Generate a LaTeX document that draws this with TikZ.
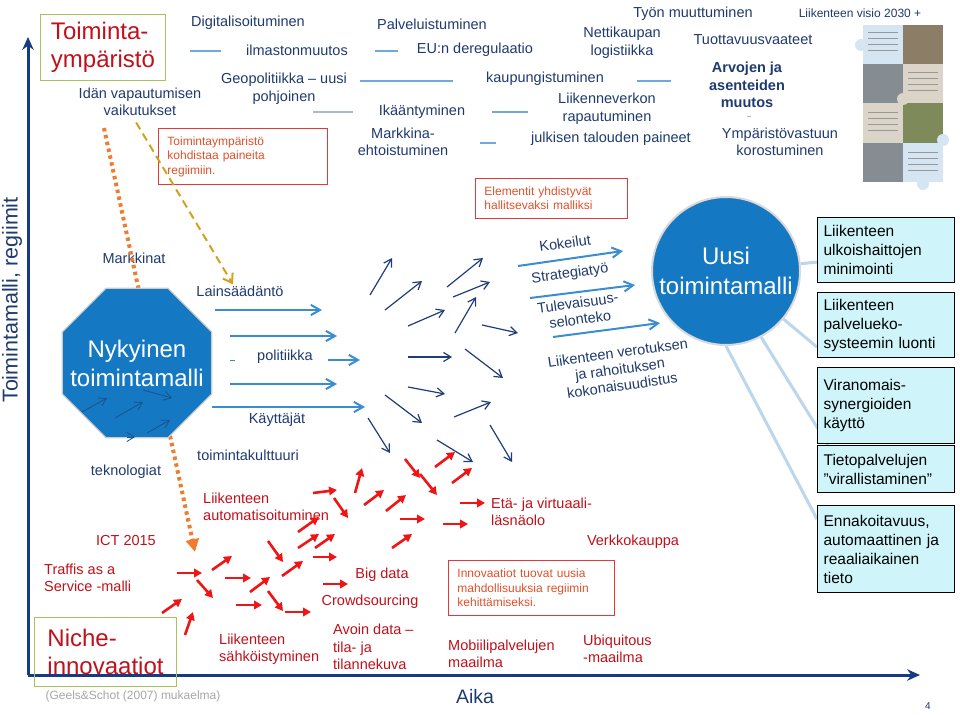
\documentclass[tikz,border=0pt]{standalone}
\usepackage{fontspec}
\setmainfont{Liberation Sans}
\usetikzlibrary{arrows.meta,shapes.geometric,backgrounds}
\definecolor{navytxt}{HTML}{1F3A6E}
\definecolor{darkred}{HTML}{C0101A}
\definecolor{notered}{HTML}{E0502A}
\definecolor{boxred}{HTML}{E03A3A}
\definecolor{nicheolive}{HTML}{A9C25D}
\definecolor{modelblue}{HTML}{1479C2}
\definecolor{flowblue}{HTML}{3A8ED0}
\definecolor{pushnavy}{HTML}{1F3D7A}
\definecolor{sparkred}{HTML}{F01414}
\definecolor{axisnavy}{HTML}{173A84}
\definecolor{goalfill}{HTML}{CFF5FB}
\definecolor{linkblue}{HTML}{BCD6EC}
\definecolor{sepblue}{HTML}{6FA8DC}
\definecolor{sepgray}{HTML}{A9BCC8}
\definecolor{dotorange}{HTML}{ED7D31}
\definecolor{dashgold}{HTML}{D2A21E}
\definecolor{pzpale}{HTML}{D5E5F2}
\definecolor{pzbeige}{HTML}{DAD4C9}
\definecolor{pzbrown}{HTML}{8C7E66}
\definecolor{pzgray}{HTML}{858C92}
\definecolor{pzgreen}{HTML}{7E8A5A}
\tikzset{
  trend/.style={
    text=navytxt,
    font=\fontsize{14.5}{17.5}\selectfont,
    align=center,
    inner sep=1pt
  },
  niche/.style={
    text=darkred,
    font=\fontsize{14.5}{17.5}\selectfont,
    align=left,
    inner sep=1pt
  },
  heading/.style={
    draw=nicheolive,
    line width=1pt,
    text=darkred,
    font=\fontsize{24}{28}\selectfont,
    align=left,
    anchor=north west
  },
  remark/.style={
    draw=boxred,
    line width=0.9pt,
    text=notered,
    font=\fontsize{12}{14.5}\selectfont,
    align=left,
    inner xsep=9pt,
    anchor=north west
  },
  goal/.style={
    draw=black,
    line width=1.2pt,
    fill=goalfill,
    text=black,
    font=\fontsize{15.5}{19}\selectfont,
    align=left,
    text width=125pt,
    inner xsep=6pt,
    anchor=north west
  },
  modeltext/.style={
    text=white,
    font=\fontsize{24}{29}\selectfont,
    align=center,
    inner sep=0pt
  },
  flow/.style={
    -{Straight Barb[length=3.2mm,width=3.6mm]},
    draw=flowblue,
    line width=2pt
  },
  push/.style={
    -{Straight Barb[length=2.6mm,width=3.2mm]},
    draw=pushnavy,
    line width=1.2pt
  },
  spark/.style={
    -{Triangle[length=2.8mm,width=3mm]},
    draw=sparkred,
    line width=2.6pt
  },
  link/.style={draw=linkblue, line width=3pt},
  sep/.style={draw=sepblue, line width=2.5pt},
  axis/.style={
    -{Stealth[length=4.5mm,width=4mm]},
    draw=axisnavy,
    line width=3pt
  }
}

\begin{document}
\begin{tikzpicture}[x=1pt,y=-1pt]
  \useasboundingbox (0,0) rectangle (960,714);

  % Axes
  \coordinate (origin) at (28,675);
  \coordinate (ytop) at (28,37);
  \coordinate (xend) at (920,675);
  \draw[axis] (origin) -- (ytop);
  \draw[axis] (origin) -- (xend);
  \node[trend, rotate=90, font=\fontsize{21.5}{26}\selectfont] (regime) at (12,300) {Toimintamalli, regiimit};
  \node[trend, font=\fontsize{19.5}{23}\selectfont] (aika) at (475,697) {Aika};
  \node[text=black!35, font=\fontsize{12}{14}\selectfont] (source) at (133,696) {(Geels\&Schot (2007) mukaelma)};
  \node[text=navytxt, font=\fontsize{10}{12}\selectfont] (pagenum) at (928,706) {4};

  % Landscape level
  \node[heading, minimum width=125, minimum height=66] (envtitle) at (40,14) {Toiminta-\\ympäristö};
  \node[trend] (idan) at (140,102) {Idän vapautumisen\\vaikutukset};
  \node[trend] (digi) at (248,23) {Digitalisoituminen};
  \node[trend] (ilmasto) at (297,50) {ilmastonmuutos};
  \node[trend] (geo) at (284,89) {Geopolitiikka – uusi\\pohjoinen};
  \node[trend] (palvelu) at (432,24) {Palveluistuminen};
  \node[trend] (eu) at (475,50) {EU:n deregulaatio};
  \node[trend] (netti) at (622,43) {Nettikaupan\\logistiikka};
  \node[trend] (kaupunki) at (545,79) {kaupungistuminen};
  \node[trend] (ikaan) at (422,112) {Ikääntyminen};
  \node[trend] (verkko) at (607,109) {Liikenneverkon\\rapautuminen};
  \node[trend] (markkina) at (403,142) {Markkina-\\ehtoistuminen};
  \node[trend] (julkinen) at (611,139) {julkisen talouden paineet};
  \node[trend] (tyon) at (693,14) {Työn muuttuminen};
  \node[trend] (tuotto) at (753,40) {Tuottavuusvaateet};
  \node[trend, font=\bfseries\fontsize{14.5}{17.5}\selectfont] (arvot) at (747,85) {Arvojen ja\\asenteiden\\muutos};
  \node[trend] (ympvast) at (780,142) {Ympäristövastuun\\korostuminen};
  \node[trend, font=\fontsize{12}{14}\selectfont] (visio) at (860,13) {Liikenteen visio 2030 +};
  \draw[sep] (190,51) -- (221,51);
  \draw[sep, draw=sepgray] (313,112) -- (353,112);
  \draw[sep] (375,51) -- (398,51);
  \draw[sep] (360,81) -- (453,81);
  \draw[sep] (637,81) -- (671,81);
  \draw[sep] (492,112) -- (528,112);
  \draw[sep] (480,143) -- (496,143);
  \draw[sepgray, line width=1pt] (747,117) -- (751,117);

  % Vision picture
  \foreach \row/\lc/\rc in {0/pzpale/pzbrown,1/pzgray/pzbeige,2/pzbeige/pzgreen,3/pzgray/pzpale} {
    \fill[\lc] (863,{25+\row*39.25}) rectangle (903,{64.25+\row*39.25});
    \fill[\rc] (903,{25+\row*39.25}) rectangle (943,{64.25+\row*39.25});
  }
  \fill[pzpale] (861,45) circle (6);
  \fill[pzbeige] (903,99) circle (6);
  \fill[pzpale] (943,140) circle (6);
  \fill[pzpale] (923,184) circle (6);
  \foreach \x/\y in {868/32,868/38,868/44,868/50,908/72,908/78,908/84,908/90,868/112,868/118,868/124,868/130,908/152,908/158,908/164,908/170} {
    \draw[black!40, line width=0.6pt] (\x,\y) -- ++(30,0);
  }

  \node[remark, text width=151, minimum height=56] (pressure) at (158,128) {Toimintaympäristö\\kohdistaa paineita\\regiimiin.};

  % Regime level
  \node[trend] (markkinat) at (134,258) {Markkinat};
  \node[trend] (lains) at (240,291) {Lainsäädäntö};
  \node[trend] (politiikka) at (285,357) {politiikka};
  \node[trend] (kayttajat) at (277,420) {Käyttäjät};
  \node[trend] (kulttuuri) at (248,455) {toimintakulttuuri};
  \node[trend] (tekno) at (126,472) {teknologiat};
  \node[remark, text width=134, minimum height=40] (merge) at (475,178) {Elementit yhdistyvät\\hallitsevaksi malliksi};

  \coordinate (dotstart) at (104,128);
  \coordinate (dotend) at (195,552);
  \draw[dotorange, line width=4pt, dash pattern=on 3.5pt off 3.5pt,
    -{Triangle[length=4.5mm,width=4.5mm]}] (dotstart) -- (dotend);
  \draw[dashgold, line width=2pt, dash pattern=on 8pt off 5pt,
    -{Straight Barb[length=3mm,width=4mm]}, shorten <=6pt]
    ([xshift=-7pt]idan.south) -- ([xshift=-7pt]lains.north);

  \node[regular polygon, regular polygon sides=8, minimum size=162, inner sep=0pt,
    fill=modelblue, draw=white!80!black, line width=1.2pt] (nykyinen) at (137,363) {};
  \node[modeltext] (nykyinenlbl) at (nykyinen) {Nykyinen\\toimintamalli};
  \foreach \a/\b/\c/\d in {82/412/107/398,115/418/143/402,143/390/172/398,147/433/170/420,127/437/135/437} {
    \draw[push, draw=pushnavy!70!modelblue, line width=0.8pt] (\a,\b) -- (\c,\d);
  }
  \draw[flowblue, line width=1pt] (230,360) -- (235,360);

  % Flows out of the current model
  \foreach \a/\b/\c/\d in {215/310/322/310,230/336/337/336,328/360/360/360,230/384/337/384,212/407/365/407} {
    \draw[flow] (\a,\b) -- (\c,\d);
  }
  \foreach \a/\b/\c/\d in {370/295/392/258,385/310/422/281,408/326/445/310,408/357/452/357,408/387/445/394,
    385/395/422/423,368/418/390/453,447/287/483/258,453/297/490/282,455/333/476/297,482/325/518/333,
    465/349/503/378,454/417/491/402,490/425/512/462,437/440/473/462} {
    \draw[push] (\a,\b) -- (\c,\d);
  }

  % New model
  \node[circle, minimum size=148, inner sep=0pt, fill=modelblue, draw=white!85!black,
    line width=2pt] (uusi) at (726,271) {};
  \node[modeltext, font=\fontsize{24}{30}\selectfont] (uusilbl) at (uusi) {Uusi\\toimintamalli};
  \node[trend, rotate=8, inner sep=0pt] (kokeilut) at (565,243) {Kokeilut};
  \node[trend, rotate=8, inner sep=0pt] (strategia) at (570,274) {Strategiatyö};
  \node[trend, rotate=8, inner sep=0pt, font=\fontsize{14.5}{16.5}\selectfont] (tulevaisuus) at (579,311) {Tulevaisuus-\\selonteko};
  \node[trend, rotate=8, inner sep=0pt, font=\fontsize{14.5}{16.5}\selectfont] (verotus) at (620,369) {Liikenteen verotuksen\\ja rahoituksen\\kokonaisuudistus};
  \foreach \a/\b/\c/\d in {518/266/623/251,530/298/635/285,553/337/660/323} {
    \draw[flow] (\a,\b) -- (\c,\d);
  }

  \node[goal, minimum height=65] (g1) at (817,217) {Liikenteen\\ulkoishaittojen\\minimointi};
  \node[goal, minimum height=65] (g2) at (817,292) {Liikenteen\\palvelueko-\\systeemin luonti};
  \node[goal, minimum height=76] (g3) at (817,367) {Viranomais-\\synergioiden\\käyttö};
  \node[goal, minimum height=47] (g4) at (817,445) {Tietopalvelujen\\”virallistaminen”};
  \node[goal, minimum height=87] (g5) at (817,505) {Ennakoitavuus,\\automaattinen ja\\reaaliaikainen\\tieto};
  \begin{pgfonlayer}{background}
    \draw[link] (uusi) -- ([yshift=-12pt]g1.west);
    \draw[link] (uusi) -- ([yshift=-22pt]g2.west);
    \draw[link] (uusi.-62) -- ([xshift=11pt]g4.north west);
    \draw[link] (uusi.-90) -- ([yshift=30pt]g5.west);
  \end{pgfonlayer}

  % Niche level
  \node[heading, minimum width=142, minimum height=69] (nichetitle) at (34,617) {Niche-\\innovaatiot};
  \node[niche, anchor=west] (autom) at (202,507) {Liikenteen\\automatisoituminen};
  \node[niche] (ict) at (126,541) {ICT 2015};
  \node[niche, anchor=west] (traffis) at (43,578) {Traffis as a\\Service -malli};
  \node[niche, anchor=west] (sahko) at (218,649) {Liikenteen\\sähköistyminen};
  \node[niche] (bigdata) at (382,575) {Big data};
  \node[niche] (crowd) at (370,602) {Crowdsourcing};
  \node[niche, anchor=west] (avoin) at (332,647) {Avoin data –\\tila- ja\\tilannekuva};
  \node[niche, anchor=west] (mobiili) at (447,654) {Mobiilipalvelujen\\maailma};
  \node[niche, anchor=west] (ubiq) at (582,649) {Ubiquitous\\-maailma};
  \node[niche, anchor=west] (eta) at (490,512) {Etä- ja virtuaali-\\läsnäolo};
  \node[niche] (verkkok) at (633,542) {Verkkokauppa};
  \node[remark, text width=148, minimum height=55] (chances) at (448,560) {Innovaatiot tuovat uusia\\mahdollisuuksia regiimin\\kehittämiseksi.};
  \foreach \a/\b/\c/\d in {177/573/202/573,197/580/213/598,212/570/232/556,162/613/182/599,185/635/193/612,
    225/578/251/578,236/605/262/605,250/592/270/577,268/591/283/611,285/612/311/612,268/541/283/562,
    282/576/303/561,298/532/319/517,298/548/319/534,315/548/335/534,313/557/337/557,323/584/348/584,
    313/493/337/490,334/498/348/518,355/493/362/468,364/505/384/490,386/511/406/495,400/519/425/519,
    392/548/412/534,405/459/420/478,420/474/437/495,435/467/455/452,452/483/472/468,443/524/468/524,
    460/503/485/503} {
    \draw[spark] (\a,\b) -- (\c,\d);
  }
\end{tikzpicture}
\end{document}
